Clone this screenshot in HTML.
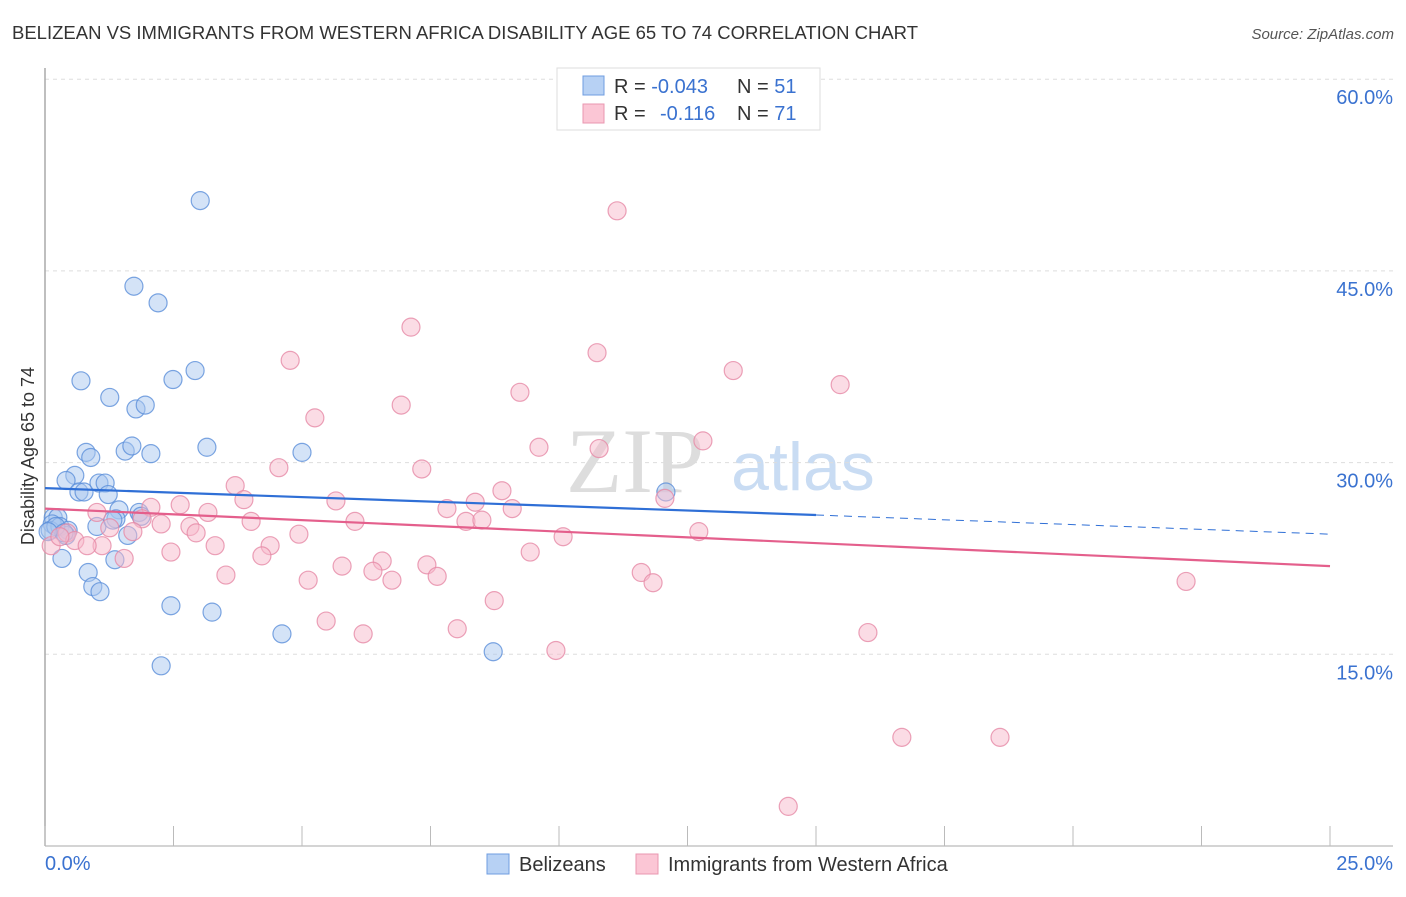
<!DOCTYPE html>
<html><head><meta charset="utf-8"><style>
body{margin:0;background:#fff;font-family:"Liberation Sans",sans-serif;}
</style></head><body>
<svg width="1406" height="892" xmlns="http://www.w3.org/2000/svg" font-family="Liberation Sans, sans-serif">
<text x="12" y="39" font-size="18.5" fill="#333">BELIZEAN VS IMMIGRANTS FROM WESTERN AFRICA DISABILITY AGE 65 TO 74 CORRELATION CHART</text>
<text x="1394" y="39" font-size="15" fill="#555" font-style="italic" text-anchor="end">Source: ZipAtlas.com</text>
<g>
<text x="635" y="492" font-size="92" fill="#ddd" font-family="Liberation Serif, serif" text-anchor="middle">ZIP</text>
<text x="803" y="490" font-size="68" fill="#c9dcf3" text-anchor="middle">atlas</text>
</g>
<g id="grid"></g>
<g id="axes"></g>
<g id="marks"></g>
<text transform="translate(34,456) rotate(-90)" font-size="18" fill="#333" text-anchor="middle">Disability Age 65 to 74</text>
<g>
<rect x="557" y="68" width="263" height="62" fill="#fff" stroke="#ddd"/>
<rect x="583" y="76" width="21" height="19" fill="#b7d1f4" stroke="#6f9de0"/>
<rect x="583" y="104" width="21" height="19" fill="#fbc6d5" stroke="#ea97b0"/>
<text x="614" y="93" font-size="20" fill="#333">R = <tspan fill="#3a72d0">-0.043</tspan></text>
<text x="737" y="93" font-size="20" fill="#333">N = <tspan fill="#3a72d0">51</tspan></text>
<text x="614" y="120" font-size="20" fill="#333">R = </text>
<text x="660" y="120" font-size="20" fill="#3a72d0">-0.116</text>
<text x="737" y="120" font-size="20" fill="#333">N = <tspan fill="#3a72d0">71</tspan></text>
</g>
<g>
<rect x="487" y="854" width="22" height="20" fill="#b7d1f4" stroke="#6f9de0"/>
<text x="519" y="871" font-size="20" fill="#333">Belizeans</text>
<rect x="636" y="854" width="22" height="20" fill="#fbc6d5" stroke="#ea97b0"/>
<text x="668" y="871" font-size="20" fill="#333">Immigrants from Western Africa</text>
</g>
</svg>
<script>
const xTicks=[0,2.5,5,7.5,10,12.5,15,17.5,20,22.5,25];
const yTicks=[15,30,45,60];
const yTickLabels=["15.0%","30.0%","45.0%","60.0%"];
const xEndLabels=["0.0%","25.0%"];
const blueX=[3.02,1.73,2.20,0.70,2.49,2.92,1.26,1.77,1.95,0.80,1.56,1.69,2.06,3.15,5.00,0.89,0.58,0.41,0.66,0.76,1.05,1.17,1.23,12.08,0.16,0.25,0.14,0.10,0.29,0.45,0.41,1.01,1.44,1.38,1.83,1.61,0.33,0.84,0.93,1.07,1.36,2.45,3.25,4.61,2.26,8.72,0.21,0.37,1.32,1.87,0.06];
const blueY=[50.5,43.8,42.5,36.4,36.5,37.2,35.1,34.2,34.5,30.8,30.9,31.3,30.7,31.2,30.8,30.4,29.0,28.6,27.7,27.7,28.4,28.4,27.5,27.7,25.7,25.7,25.2,24.7,25.0,24.7,24.3,25.0,26.3,25.6,26.1,24.3,22.5,21.4,20.3,19.9,22.4,18.8,18.3,16.6,14.1,15.2,25.0,24.5,25.5,25.8,24.6];
const pinkX=[11.13,7.12,10.74,4.77,13.39,15.47,9.24,6.93,5.25,9.61,10.78,12.80,4.55,7.33,3.70,8.89,3.87,5.66,8.37,7.82,9.09,2.06,2.63,3.17,1.01,1.89,4.01,6.03,8.19,8.50,2.82,2.26,12.06,12.72,10.08,1.71,1.26,0.43,0.58,2.94,4.94,4.38,3.31,1.11,0.82,0.12,1.54,2.45,4.22,9.44,6.56,5.78,6.38,7.43,7.63,3.52,5.12,6.75,11.60,11.83,22.20,8.74,5.47,8.02,6.19,9.94,16.01,16.67,18.58,14.46,0.29];
const pinkY=[49.7,40.6,38.6,38.0,37.2,36.1,35.5,34.5,33.5,31.2,31.1,31.7,29.6,29.5,28.2,27.8,27.1,27.0,26.9,26.4,26.4,26.5,26.7,26.1,26.1,25.6,25.4,25.4,25.4,25.5,25.0,25.2,27.2,24.6,24.2,24.6,24.9,24.5,23.9,24.5,24.4,23.5,23.5,23.5,23.5,23.5,22.5,23.0,22.7,23.0,22.3,21.9,21.5,22.0,21.1,21.2,20.8,20.8,21.4,20.6,20.7,19.2,17.6,17.0,16.6,15.3,16.7,8.5,8.5,3.1,24.2];
const blueTrend=[[0,28.0],[15,25.9],[25,24.4]];
const pinkTrend=[[0,26.4],[25,21.9]];
const NS="http://www.w3.org/2000/svg";
const X=v=>45+v*51.4, Y=v=>846-v*12.78;
function mk(tag,attrs,parent){const e=document.createElementNS(NS,tag);for(const k in attrs)e.setAttribute(k,attrs[k]);document.getElementById(parent).appendChild(e);return e;}
yTicks.forEach((t,i)=>{
 const g=mk('line',{x1:45,x2:1393,y1:Y(t),y2:Y(t),stroke:'#ddd','stroke-dasharray':'4,4'},'grid');
 
 
 const l=mk('text',{x:1393,y:Y(t)+25,'font-size':20,fill:'#3a72d0','text-anchor':'end'},'grid');
 l.textContent=yTickLabels[i];
 
 
});
const ax=mk('line',{x1:45,x2:45,y1:68,y2:846,stroke:'#aaa','stroke-width':1.5},'axes');


const bx=mk('line',{x1:45,x2:1393,y1:846,y2:846,stroke:'#aaa','stroke-width':1},'axes');


xTicks.forEach(t=>{
 const tk=mk('line',{x1:X(t),x2:X(t),y1:826,y2:846,stroke:'#bbb'},'axes');
 
 
});
[[X(0),'start'],[1393,'end']].forEach((p,i)=>{
 const l=mk('text',{x:p[0],y:870,'font-size':20,fill:'#3a72d0','text-anchor':p[1]},'axes');
 l.textContent=xEndLabels[i];
 
 
});
function dots(xs,ys,fill,stroke,name){xs.forEach((v,i)=>{
 const c=mk('circle',{cx:X(v),cy:Y(ys[i]),r:9,fill:fill,'fill-opacity':0.5,stroke:stroke,'stroke-opacity':0.8,'stroke-width':1.2},'marks');
 
 
});}
dots(blueX,blueY,'#a9c8f0','#5b8fd9','belizean-point');
dots(pinkX,pinkY,'#f7b9cc','#e68aa6','western-africa-point');
const b1=mk('line',{x1:X(blueTrend[0][0]),y1:Y(blueTrend[0][1]),x2:X(blueTrend[1][0]),y2:Y(blueTrend[1][1]),stroke:'#2f6fd6','stroke-width':2.2},'marks');


const b2=mk('line',{x1:X(blueTrend[1][0]),y1:Y(blueTrend[1][1]),x2:X(blueTrend[2][0]),y2:Y(blueTrend[2][1]),stroke:'#2f6fd6','stroke-width':1,'stroke-dasharray':'8,6'},'marks');


const p1=mk('line',{x1:X(pinkTrend[0][0]),y1:Y(pinkTrend[0][1]),x2:X(pinkTrend[1][0]),y2:Y(pinkTrend[1][1]),stroke:'#e45f8c','stroke-width':2.2},'marks');


</script>
</body></html>
